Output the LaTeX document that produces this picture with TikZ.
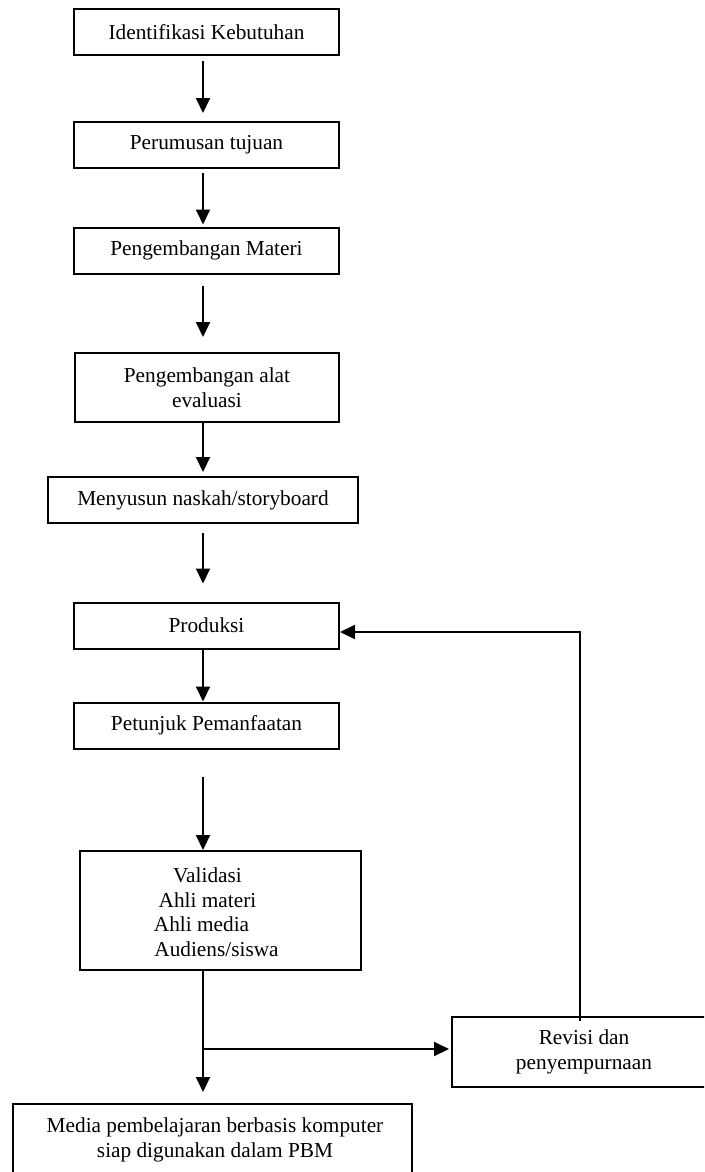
\documentclass[tikz,border=0pt]{standalone}
\usepackage{fontspec}
\setmainfont{Liberation Serif}
\usetikzlibrary{arrows.meta}
\newcommand\diagfont{\fontsize{21.3}{24.5}\selectfont}
\begin{document}
\begin{tikzpicture}[x=1pt,y=-1pt,
  box/.style={draw,line width=2pt,minimum width=265pt,minimum height=46pt,inner sep=0pt,align=center,font=\diagfont},
  txt/.style={inner sep=0pt,align=center,font=\diagfont},
  arr/.style={line width=2pt,-{Triangle[width=14pt,length=15pt]}}]
\useasboundingbox (0,0) rectangle (704,1172);
\clip (0,0) rectangle (704,1172);
\node[box] (b1) at (206.5,32) {Identifikasi Kebutuhan};
\node[box] (b2) at (206.5,145) {Perumusan tujuan};
\node[box] (b3) at (206.5,250.5) {Pengembangan Materi};
\node[box,minimum width=264pt,minimum height=69pt] (b4) at (207,387.5) {Pengembangan alat\\evaluasi};
\node[box,minimum width=310pt] (b5) at (203,500) {Menyusun naskah/storyboard};
\node[box] (b6) at (206.5,625.5) {Produksi};
\node[box] (b7) at (206.5,725.5) {Petunjuk Pemanfaatan};
\node[box,minimum width=281pt,minimum height=119pt] (b8) at (220.5,910.5) {};
\node[txt] (t8) at (207.5,912) {Validasi\\Ahli materi\\Ahli media\rule{12pt}{0pt}\\\rule{18pt}{0pt}Audiens/siswa};
\node[box,minimum width=264pt,minimum height=70pt] (b9) at (584,1052) {Revisi dan\\penyempurnaan};
\node[box,minimum width=399pt,minimum height=96pt] (b10) at (212.5,1152) {};
\node[txt] (t10) at (215,1140) {Media pembelajaran berbasis komputer\\siap digunakan dalam PBM};
\coordinate (col) at (203,0);
\draw[arr] ([yshift=-5pt]b1.south -| col) -- ([yshift=8pt]b2.north -| col);
\draw[arr] ([yshift=-4pt]b2.south -| col) -- ([yshift=2pt]b3.north -| col);
\draw[arr] ([yshift=-11pt]b3.south -| col) -- ([yshift=15pt]b4.north -| col);
\draw[arr] (b4.south -| col) -- ([yshift=4pt]b5.north -| col);
\draw[arr] ([yshift=-9pt]b5.south -| col) -- ([yshift=18pt]b6.north -| col);
\draw[arr] (b6.south -| col) -- (b7.north -| col);
\draw[arr] ([yshift=-27pt]b7.south -| col) -- (b8.north -| col);
\draw[arr] (b8.south -| col) -- ([yshift=11pt]b10.north -| col);
\coordinate (br) at (203,1049);
\draw[arr,shorten >=2pt] (br) -- (br -| b9.west);
\draw[arr] ([xshift=-4pt,yshift=-5pt]b9.north) |- ([yshift=-6.5pt]b6.east);
\end{tikzpicture}
\end{document}
